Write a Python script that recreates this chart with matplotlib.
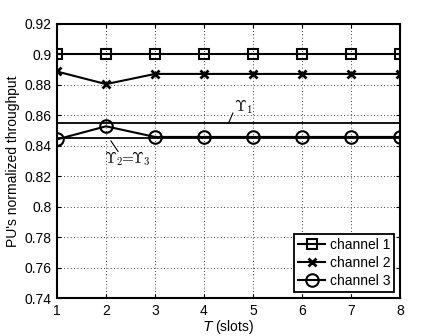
import numpy as np
import matplotlib.pyplot as plt

plt.rcParams['font.family'] = ['Liberation Sans', 'DejaVu Sans']

# data
slots = [1, 2, 3, 4, 5, 6, 7, 8]
channel1 = [0.900, 0.900, 0.900, 0.900, 0.900, 0.900, 0.900, 0.900]
channel2 = [0.8888, 0.8805, 0.8872, 0.8872, 0.8872, 0.8872, 0.8872, 0.8872]
channel3 = [0.8442, 0.8528, 0.8458, 0.8458, 0.8458, 0.8458, 0.8458, 0.8458]
upsilon1 = 0.8548
upsilon23 = 0.8448
yticks = [0.74, 0.76, 0.78, 0.8, 0.82, 0.84, 0.86, 0.88, 0.9, 0.92]
ytick_labels = ['0.74', '0.76', '0.78', '0.8', '0.82', '0.84', '0.86', '0.88', '0.9', '0.92']

fig = plt.figure(figsize=(4.42, 3.36), dpi=100)
ax = fig.add_axes([57 / 442, 1 - 298 / 336, 343 / 442, 274 / 336])

# threshold lines
ax.plot([slots[0], slots[-1]], [upsilon1, upsilon1], color='k', lw=1.3)
ax.plot([slots[0], slots[-1]], [upsilon23, upsilon23], color='k', lw=1.3)

ax.plot(slots, channel1, 'k-', marker='s', ms=7, mfc='none', mew=1.5, lw=1.5, label='channel 1')
ax.plot(slots, channel2, 'k-', marker='x', ms=6, mew=2, lw=1.5, label='channel 2')
ax.plot(slots, channel3, 'k-', marker='o', ms=9, mfc='none', mew=1.5, lw=1.5, label='channel 3')

ax.set_xlim(1, 8)
ax.set_ylim(0.74, 0.92)
ax.set_xticks(slots)
ax.set_yticks(yticks)
ax.set_yticklabels(ytick_labels)
ax.tick_params(direction='in', top=True, right=True, labelsize=10, length=3, pad=4)
ax.grid(True, color='k', ls=(0, (1, 3)), lw=0.6)
for s in ax.spines.values():
    s.set_linewidth(1.5)

ax.set_xlabel(r'$T$ (slots)', fontsize=10, labelpad=0, math_fontfamily='dejavusans')
ax.set_ylabel("PU's normalized throughput", fontsize=10, labelpad=3)

# threshold labels with leader lines
ax.plot([4.5, 4.59], [upsilon1, 0.8615], color='k', lw=0.8)
ax.text(4.62, 0.8655, r'$\Upsilon_1$', fontsize=11, ha='left', va='center',
        math_fontfamily='cm')
ax.plot([2.1, 2.245], [0.8432, 0.8363], color='k', lw=0.8)
ax.text(1.96, 0.8318, r'$\Upsilon_2\!\!=\!\!\Upsilon_3$', fontsize=11, ha='left', va='center',
        math_fontfamily='cm')

leg = ax.legend(loc='lower right', fontsize=10, frameon=True, fancybox=False,
                edgecolor='k', framealpha=1, borderpad=0.3, labelspacing=0.3,
                handlelength=2.0, handletextpad=0.3, borderaxespad=0.4)
leg.get_frame().set_linewidth(1.3)

fig.savefig('out.png', dpi=100)
